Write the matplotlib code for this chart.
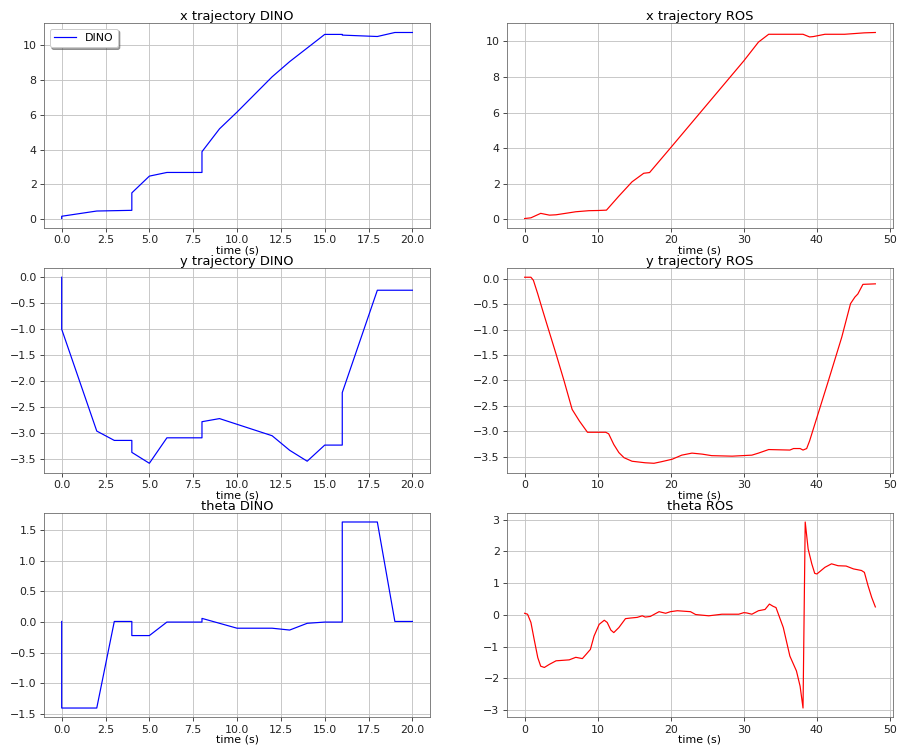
import matplotlib
matplotlib.use("Agg")
import matplotlib.pyplot as plt

# ---------------- DINO data ----------------
dino_x_t = [0, 0, 2, 4, 4, 5, 6, 8, 8, 9, 10, 12, 13, 15, 16, 16, 18, 19, 20]
dino_x = [0.05, 0.18, 0.48, 0.52, 1.52, 2.48, 2.69, 2.69, 3.88, 5.19, 6.15, 8.17, 9.04, 10.6, 10.6, 10.56, 10.48, 10.71, 10.71]

dino_y_t = [0, 0, 2, 3, 4, 4, 5, 6, 8, 8, 9, 12, 13, 14, 15, 16, 16, 18, 20]
dino_y = [0.0, -1.0, -2.96, -3.14, -3.14, -3.37, -3.58, -3.09, -3.09, -2.78, -2.72, -3.05, -3.33, -3.54, -3.23, -3.23, -2.22, -0.25, -0.25]

dino_th_t = [0, 0, 2, 3, 4, 4, 5, 6, 8, 8, 10, 12, 13, 14, 15, 16, 16, 18, 19, 20]
dino_th = [0.01, -1.40, -1.40, 0.01, 0.01, -0.22, -0.22, 0.0, 0.0, 0.06, -0.10, -0.10, -0.13, -0.02, 0.0, 0.0, 1.63, 1.63, 0.01, 0.01]

# ---------------- ROS data ----------------
ros_x_t = [0, 0.86, 2.2, 3.4, 4.3, 5.9, 7.0, 8.8, 10, 11.2, 12.9, 14.7, 16.3, 17.1, 20, 30, 32, 33.4, 38.1, 39.0, 39.5, 41.1, 43.8, 46.5, 48]
ros_x = [0.05, 0.09, 0.34, 0.24, 0.26, 0.36, 0.43, 0.49, 0.5, 0.52, 1.31, 2.11, 2.59, 2.63, 4.03, 8.9, 9.95, 10.39, 10.39, 10.24, 10.26, 10.39, 10.39, 10.47, 10.49]

ros_y_t = [0, 0.86, 1.2, 1.8, 2.4, 3.1, 4.3, 5.4, 6.5, 7.5, 7.9, 8.6, 11.1, 11.5, 12.2, 12.9, 13.6, 14.7, 16.5, 17.7, 18.7, 20.2, 21.5, 22.9, 24.3, 25.6, 28.4, 31.1, 32.0, 33.4, 36.3, 36.8, 37.7, 38.1, 38.6, 39.0, 40.0, 41.5, 43.4, 44.6, 45.2, 45.6, 46.3, 48]
ros_y = [0.03, 0.03, -0.03, -0.30, -0.59, -0.92, -1.48, -2.01, -2.57, -2.80, -2.88, -3.02, -3.02, -3.05, -3.26, -3.42, -3.52, -3.59, -3.62, -3.63, -3.60, -3.55, -3.47, -3.43, -3.45, -3.48, -3.49, -3.47, -3.43, -3.36, -3.37, -3.34, -3.34, -3.37, -3.34, -3.19, -2.73, -2.04, -1.15, -0.49, -0.36, -0.30, -0.11, -0.10]

ros_th_t = [0, 0.4, 0.86, 1.3, 1.8, 2.2, 2.7, 3.4, 4.3, 6.1, 7.0, 7.9, 8.4, 9.0, 9.5, 10.2, 10.9, 11.3, 11.8, 12.2, 12.9, 13.8, 14.5, 15.4, 16.1, 16.5, 17.2, 18.4, 19.3, 19.95, 20.9, 22.7, 23.4, 25.2, 27.0, 29.3, 30.0, 30.4, 31.1, 32.0, 32.9, 33.5, 34.0, 34.4, 35.4, 36.3, 37.2, 37.7, 38.1, 38.4, 38.8, 39.3, 39.7, 40.0, 41.1, 42.0, 42.9, 44.0, 45.0, 46.1, 46.5, 47.0, 47.5, 48.0]
ros_th = [0.05, 0.02, -0.24, -0.77, -1.35, -1.62, -1.66, -1.56, -1.45, -1.42, -1.34, -1.38, -1.25, -1.09, -0.67, -0.30, -0.17, -0.24, -0.48, -0.56, -0.40, -0.12, -0.10, -0.08, -0.03, -0.07, -0.05, 0.10, 0.05, 0.10, 0.13, 0.10, 0.01, -0.03, 0.02, 0.02, 0.07, 0.06, 0.02, 0.13, 0.17, 0.34, 0.27, 0.23, -0.40, -1.30, -1.77, -2.25, -2.94, 2.93, 2.08, 1.61, 1.31, 1.29, 1.50, 1.61, 1.55, 1.54, 1.45, 1.40, 1.34, 0.92, 0.55, 0.25]

titles = [["x trajectory DINO", "x trajectory ROS"],
          ["y trajectory DINO", "y trajectory ROS"],
          ["theta DINO", "theta ROS"]]
xlabel = "time (s)"

plt.rcParams['font.family'] = ['DejaVu Sans']
fig, axes = plt.subplots(3, 2, figsize=(901 / 72, 748 / 72), dpi=72)
fig.subplots_adjust(left=0.049, right=0.991, top=0.969, bottom=0.041, wspace=0.2, hspace=0.196)

dino = [(dino_x_t, dino_x), (dino_y_t, dino_y), (dino_th_t, dino_th)]
ros = [(ros_x_t, ros_x), (ros_y_t, ros_y), (ros_th_t, ros_th)]

for r in range(3):
    axd = axes[r, 0]
    axr = axes[r, 1]
    axd.plot(dino[r][0], dino[r][1], color='b', lw=1.2, label='DINO')
    axr.plot(ros[r][0], ros[r][1], color='r', lw=1.2)
    for j, ax in enumerate((axd, axr)):
        ax.set_title(titles[r][j], fontsize=13, pad=3)
        ax.set_xlabel(xlabel, fontsize=11, labelpad=0)
        ax.grid(True, color='#c4c4c4', lw=0.9)
        ax.tick_params(labelsize=11, colors='#222222', length=4)
        for s in ax.spines.values():
            s.set_color('#666666')
    if r == 0:
        axd.legend(loc='upper left', shadow=True, fontsize=11)

axes[0, 0].set_xticks([0, 2.5, 5, 7.5, 10, 12.5, 15, 17.5, 20])
fig.savefig("out.png", dpi=72)
